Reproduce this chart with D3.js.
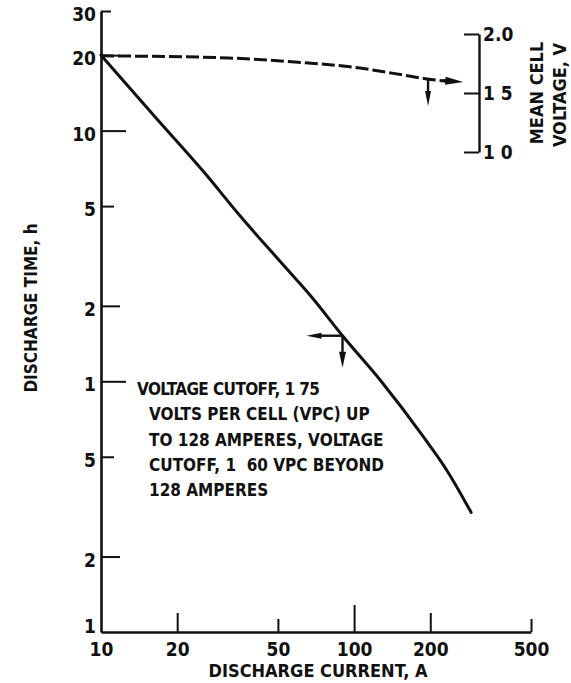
<!DOCTYPE html>
<html><head><meta charset="utf-8">
<script src="https://cdn.jsdelivr.net/npm/d3@7"></script>
<style>
html,body{margin:0;padding:0;background:#fff;}
svg{display:block;}
text{font-family:"DejaVu Sans",sans-serif;font-stretch:condensed;font-weight:bold;fill:#111;}
</style></head><body>
<svg id="c" width="571" height="683"></svg>
<script>
// ---- data ----
const timeCurrent = [10, 16.4, 25.8, 34.8, 51.9, 68.2, 90, 127, 188, 233, 290];
const timeHours   = [20, 11.3, 6.74, 4.67, 2.95, 2.16, 1.52, 1.01, 0.60, 0.44, 0.30];
const voltCurrent = [10, 12.8, 31.8, 58.5, 98.2, 156, 194, 270];
const voltMean    = [1.815, 1.813, 1.797, 1.763, 1.72, 1.653, 1.619, 1.593];
const xTicks = [10, 20, 50, 100, 200, 500];
const xTickLabels = ["10", "20", "50", "100", "200", "500"];
const yTicks = [0.1, 0.2, 0.5, 1, 2, 5, 10, 20, 30];
const yTickLabels = ["1", "2", "5", "1", "2", "5", "10", "20", "30"];
const vTicks = [1.0, 1.5, 2.0];
const vTickLabels = ["1 0", "1 5", "2.0"];
const noteLines = ["VOLTAGE CUTOFF, 1 75", "VOLTS PER CELL (VPC) UP", "TO 128 AMPERES, VOLTAGE", "CUTOFF, 1  60 VPC BEYOND", "128 AMPERES"];
const timeArrowCurrent = 90;   // arrow marker on discharge-time curve
const voltArrowCurrent = 196;  // arrow marker on voltage curve

// ---- layout ----
const svg = d3.select("#c");
const x = d3.scaleLog().domain([10, 500]).range([101, 531]);
const y = d3.scaleLog().domain([0.1, 30]).range([632, 11]);
const yR = d3.scaleLinear().domain([1, 2]).range([152, 34]);
const ink = "#111";

function tickLen(v, big) {
  const m = v / Math.pow(10, Math.floor(Math.log10(v) + 1e-9));
  return m < 1.5 ? big : m < 2.5 ? 19 : m < 4 ? 10 : 13;
}

// left axis
const gy = svg.append("g").attr("transform", `translate(${x(10)},0)`)
  .call(d3.axisLeft(y).tickValues(yTicks)
    .tickFormat(d => yTickLabels[yTicks.indexOf(d)])
    .tickSize(-1).tickSizeOuter(0).tickPadding(5));
gy.select(".domain").attr("stroke", ink).attr("stroke-width", 2.6);
gy.selectAll(".tick line").attr("x2", d => d === 0.1 ? 0 : tickLen(d, 25)).attr("stroke", ink).attr("stroke-width", 2);
gy.selectAll(".tick text").attr("font-size", 19).attr("fill", ink).attr("dy", d => d === 0.1 ? "0.05em" : "0.5em");

// bottom axis
const gx = svg.append("g").attr("transform", `translate(0,${y(0.1)})`)
  .call(d3.axisBottom(x).tickValues(xTicks)
    .tickFormat(d => xTickLabels[xTicks.indexOf(d)])
    .tickSize(-1).tickSizeOuter(0).tickPadding(11));
gx.select(".domain").attr("stroke", ink).attr("stroke-width", 2.6);
gx.selectAll(".tick line").attr("y2", d => d === 10 ? 0 : -tickLen(d, 27)).attr("stroke", ink).attr("stroke-width", 2);
gx.selectAll(".tick text").attr("font-size", 19).attr("fill", ink);

// right axis
const gr = svg.append("g").attr("transform", "translate(479,0)")
  .call(d3.axisRight(yR).tickValues(vTicks)
    .tickFormat(d => vTickLabels[vTicks.indexOf(d)])
    .tickSize(-15).tickSizeOuter(0).tickPadding(4));
gr.select(".domain").attr("stroke", ink).attr("stroke-width", 2.4);
gr.selectAll(".tick line").attr("stroke", ink).attr("stroke-width", 2);
gr.selectAll(".tick text").attr("font-size", 19).attr("fill", ink);

// titles
svg.append("text").attr("x", 318).attr("y", 677).attr("text-anchor", "middle")
  .attr("font-size", 18).text("DISCHARGE CURRENT, A");
svg.append("text").attr("transform", "translate(37,308) rotate(-90)").attr("text-anchor", "middle")
  .attr("font-size", 17).text("DISCHARGE TIME, h");
svg.append("text").attr("transform", "translate(543,93) rotate(-90)").attr("text-anchor", "middle")
  .attr("font-size", 18).text("MEAN CELL");
svg.append("text").attr("transform", "translate(566,95) rotate(-90)").attr("text-anchor", "middle")
  .attr("font-size", 18).text("VOLTAGE, V");

// curves
const timePts = timeCurrent.map((c, i) => [x(c), y(timeHours[i])]);
const voltPts = voltCurrent.map((c, i) => [x(c), yR(voltMean[i])]);
const line = d3.line().curve(d3.curveMonotoneX);
svg.append("path").attr("d", line(timePts)).attr("fill", "none")
  .attr("stroke", ink).attr("stroke-width", 3).attr("stroke-linecap", "round");
svg.append("path").attr("d", line(voltPts.slice(0, -1).concat([[voltPts[voltPts.length - 1][0] - 14, voltPts[voltPts.length - 1][1] - 0.5]])))
  .attr("fill", "none").attr("stroke", ink).attr("stroke-width", 3).attr("stroke-dasharray", "13,4");

function arrow(x1, y1, x2, y2, hl, hw, sw) {
  const dx = x2 - x1, dy = y2 - y1, L = Math.hypot(dx, dy), ux = dx / L, uy = dy / L;
  const bx = x2 - ux * hl, by = y2 - uy * hl;
  svg.append("line").attr("x1", x1).attr("y1", y1).attr("x2", bx + ux * 2).attr("y2", by + uy * 2)
    .attr("stroke", ink).attr("stroke-width", sw);
  svg.append("path").attr("d", `M${x2},${y2}L${bx - uy * hw / 2},${by + ux * hw / 2}L${bx + uy * hw / 2},${by - ux * hw / 2}Z`)
    .attr("fill", ink);
}
// arrow head at end of voltage curve
{
  const n = voltPts.length, b = voltPts[n - 1];
  arrow(b[0] - 20, b[1] - 1.5, b[0], b[1], 18, 8, 3);
}
// arrows on time curve (point to left axis & down)
{
  const ax = x(timeArrowCurrent), ay = y(timeHours[timeCurrent.indexOf(timeArrowCurrent)]);
  arrow(ax, ay, ax - 36, ay, 15, 6, 2.4);
  arrow(ax, ay, ax, ay + 32, 16, 7, 2.4);
}
// down arrow on voltage curve
{
  const ax = x(voltArrowCurrent);
  const ay = yR(d3.scaleLog().domain([194, 270]).range([1.619, 1.593])(voltArrowCurrent));
  arrow(ax, ay, ax, ay + 27, 15, 6, 2.4);
}

// note
const note = svg.append("text").attr("font-size", 17);
noteLines.forEach((t, i) => {
  note.append("tspan").attr("x", i === 0 ? 137 : 149).attr("y", 395 + i * 25.3)
    .attr("letter-spacing", i === 0 ? -0.6 : 0).attr("xml:space", "preserve").text(t);
});
</script>
</body></html>
